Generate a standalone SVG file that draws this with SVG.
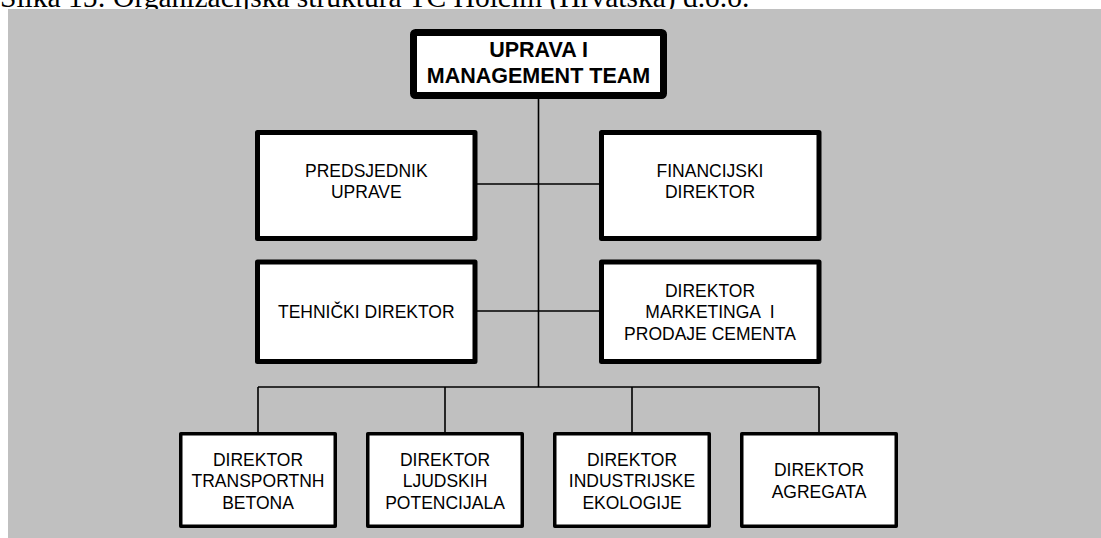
<svg xmlns="http://www.w3.org/2000/svg" width="1101" height="538" viewBox="0 0 1101 538">
<style>
.cap{font-family:"Liberation Serif","Times New Roman",serif;font-size:29.5px;fill:#000}
.box{fill:#fff;stroke:#000;stroke-linejoin:round}
.top{stroke-width:7}
.mid{stroke-width:5}
.bot{stroke-width:3.5}
.t{font-family:"Liberation Sans",Arial,sans-serif;font-size:17.5px;fill:#000;text-anchor:middle}
.tb{font-family:"Liberation Sans",Arial,sans-serif;font-size:21.5px;font-weight:bold;fill:#000;text-anchor:middle}
.ln{stroke:#000;stroke-width:1.6;fill:none}
</style>
<text class="cap" x="0" y="6.5">Slika 15: Organizacijska struktura TC Holcim (Hrvatska) d.o.o.</text>
<rect x="8" y="9" width="1093" height="529" fill="#c0c0c0"/>
<g id="connectors">
<path class="ln" d="M538.5 98V387M477 184H599M477 311H599M258 387H819M258 387V432M445 387V432M632 387V432M819 387V432"/>
</g>
<g id="n-uprava">
<rect class="box top" x="413.5" y="32.5" width="250" height="63" rx="2"/>
<text class="tb" x="538.5" y="57">UPRAVA I</text>
<text class="tb" x="538.5" y="83">MANAGEMENT TEAM</text>
</g>
<g id="n-predsjednik">
<rect class="box mid" x="257.5" y="132.5" width="217.5" height="106"/>
<text class="t" x="366.3" y="176.5">PREDSJEDNIK</text>
<text class="t" x="366.3" y="197.5">UPRAVE</text>
</g>
<g id="n-financijski">
<rect class="box mid" x="601.5" y="132.5" width="217.5" height="106"/>
<text class="t" x="710" y="176.5">FINANCIJSKI</text>
<text class="t" x="710" y="197.5">DIREKTOR</text>
</g>
<g id="n-tehnicki">
<rect class="box mid" x="257.5" y="262" width="217.5" height="99.5"/>
<text class="t" x="366.3" y="317.5">TEHNIČKI DIREKTOR</text>
</g>
<g id="n-marketing">
<rect class="box mid" x="601.5" y="262" width="217.5" height="99.5"/>
<text class="t" x="710" y="296.5">DIREKTOR</text>
<text class="t" x="710" y="318" style="white-space:pre">MARKETINGA  I</text>
<text class="t" x="710" y="339.5">PRODAJE CEMENTA</text>
</g>
<g id="n-transport">
<rect class="box bot" x="180.75" y="433.75" width="154.5" height="92.5"/>
<text class="t" x="258" y="465.5">DIREKTOR</text>
<text class="t" x="258" y="487">TRANSPORTNH</text>
<text class="t" x="258" y="508.5">BETONA</text>
</g>
<g id="n-ljudski">
<rect class="box bot" x="367.75" y="433.75" width="154.5" height="92.5"/>
<text class="t" x="445" y="465.5">DIREKTOR</text>
<text class="t" x="445" y="487">LJUDSKIH</text>
<text class="t" x="445" y="508.5">POTENCIJALA</text>
</g>
<g id="n-ekologija">
<rect class="box bot" x="554.75" y="433.75" width="154.5" height="92.5"/>
<text class="t" x="632" y="465.5">DIREKTOR</text>
<text class="t" x="632" y="487">INDUSTRIJSKE</text>
<text class="t" x="632" y="508.5">EKOLOGIJE</text>
</g>
<g id="n-agregati">
<rect class="box bot" x="741.75" y="433.75" width="154.5" height="92.5"/>
<text class="t" x="819" y="476">DIREKTOR</text>
<text class="t" x="819" y="497.5">AGREGATA</text>
</g>
</svg>
